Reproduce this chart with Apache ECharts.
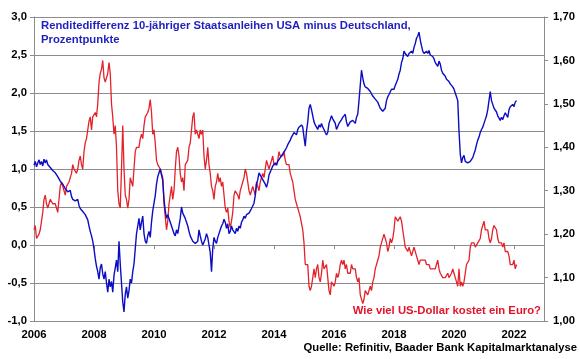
<!DOCTYPE html>
<html>
<head>
<meta charset="utf-8">
<script src="https://cdn.jsdelivr.net/npm/echarts@6/dist/echarts.min.js"></script>
<style>
html,body{margin:0;padding:0;background:#fff;}
#chart{width:580px;height:359px;}
</style>
</head>
<body>
<div id="chart"></div>
<script>
// Half-monthly readings starting January 2006 (two values per month)
var startYear = 2006;
var pointsPerYear = 24;
// Yield spread 10y US minus Germany, percentage points (left axis)
var spreadValues = [
  1.05,1.10, 1.03,1.08, 1.12,1.06, 1.10,1.04, 1.13,1.08, 1.12,1.06, 1.08,1.02, 1.04,0.98, 1.00,0.95, 0.94,0.90, 0.90,0.84, 0.86,0.80,
  0.80,0.74, 0.76,0.70, 0.68,0.72, 0.64,0.60, 0.62,0.58, 0.56,0.60, 0.52,0.48, 0.50,0.44, 0.45,0.40, 0.38,0.33, 0.25,0.18, 0.12,0.05,
  -0.05,-0.18, -0.28,-0.35, -0.45,-0.30, -0.25,-0.38, -0.45,-0.35, -0.50,-0.62, -0.45,-0.55, -0.48,-0.62, -0.40,-0.30, -0.20,-0.35, 0.05,-0.25, -0.50,-0.75,
  -0.88,-0.65, -0.55,-0.70, -0.60,-0.45, -0.50,-0.35, -0.25,-0.05, 0.15,0.25, 0.35,0.20, 0.30,0.38, 0.15,0.05, 0.02,0.12, 0.18,0.10, 0.30,0.45,
  0.55,0.65, 0.80,0.90, 0.95,1.00, 0.92,0.85, 0.60,0.45, 0.35,0.40, 0.38,0.30, 0.28,0.20, 0.15,0.12, 0.20,0.15, 0.25,0.35, 0.50,0.42,
  0.42,0.35, 0.30,0.25, 0.18,0.12, 0.10,0.05, 0.06,0.02, 0.00,0.05, 0.20,0.12, 0.05,0.00, -0.02,0.08, 0.15,0.10, 0.00,-0.10, -0.35,-0.05,
  0.10,0.05, 0.02,0.10, 0.15,0.20, 0.25,0.28, 0.34,0.30, 0.22,0.28, 0.15,0.18, 0.25,0.20, 0.18,0.15, 0.22,0.18, 0.25,0.22, 0.30,0.33,
  0.38,0.35, 0.40,0.38, 0.42,0.45, 0.48,0.50, 0.55,0.65, 0.80,0.86, 0.95,0.92, 0.90,0.86, 0.86,0.80, 0.76,0.82, 0.92,0.96, 1.00,1.04,
  1.02,1.08, 1.05,1.10, 1.12,1.15, 1.15,1.20, 1.22,1.25, 1.28,1.32, 1.35,1.38, 1.42,1.45, 1.48,1.50, 1.45,1.52, 1.55,1.57, 1.58,1.55,
  1.42,1.30, 1.50,1.62, 1.80,1.85, 1.78,1.70, 1.62,1.58, 1.55,1.52, 1.58,1.55, 1.60,1.55, 1.52,1.48, 1.45,1.48, 1.60,1.65, 1.70,1.66,
  1.66,1.60, 1.52,1.56, 1.60,1.58, 1.65,1.68, 1.70,1.72, 1.62,1.56, 1.58,1.62, 1.60,1.64, 1.62,1.60, 1.68,1.72, 1.90,2.10, 2.30,2.20,
  2.12,2.08, 2.10,2.06, 2.05,2.02, 2.00,1.96, 1.98,1.92, 1.90,1.88, 1.84,1.80, 1.78,1.76, 1.74,1.80, 1.90,1.95, 1.98,2.00, 2.05,2.03,
  2.05,2.10, 2.12,2.18, 2.25,2.30, 2.40,2.45, 2.55,2.52, 2.52,2.48, 2.52,2.50, 2.55,2.52, 2.60,2.65, 2.72,2.75, 2.80,2.70, 2.62,2.55,
  2.52,2.50, 2.55,2.52, 2.56,2.50, 2.52,2.48, 2.45,2.40, 2.38,2.35, 2.42,2.38, 2.30,2.26, 2.25,2.22, 2.18,2.20, 2.15,2.12, 2.12,2.08,
  2.05,2.00, 1.95,1.90, 1.50,1.20, 1.08,1.15, 1.18,1.10, 1.12,1.08, 1.06,1.10, 1.12,1.15, 1.20,1.25, 1.32,1.38, 1.42,1.48, 1.52,1.55,
  1.60,1.65, 1.70,1.78, 1.90,2.02, 1.90,1.85, 1.80,1.78, 1.75,1.70, 1.68,1.64, 1.68,1.65, 1.70,1.74, 1.72,1.68, 1.78,1.82, 1.80,1.85,
  1.82,1.88, 1.90
];
// EUR/USD exchange rate (right axis)
var eurusdValues = [
  1.21,1.22, 1.19,1.19, 1.20,1.21, 1.23,1.25, 1.28,1.29, 1.27,1.26, 1.27,1.28, 1.28,1.27, 1.27,1.27, 1.26,1.25, 1.28,1.31, 1.32,1.31,
  1.30,1.29, 1.31,1.31, 1.32,1.33, 1.34,1.36, 1.35,1.35, 1.34,1.35, 1.37,1.38, 1.36,1.35, 1.39,1.41, 1.42,1.44, 1.46,1.47, 1.44,1.47,
  1.47,1.48, 1.47,1.50, 1.55,1.57, 1.58,1.60, 1.56,1.55, 1.56,1.57, 1.595,1.57, 1.50,1.47, 1.43,1.45, 1.40,1.30, 1.27,1.26, 1.35,1.45,
  1.35,1.29, 1.28,1.26, 1.28,1.33, 1.32,1.31, 1.35,1.39, 1.40,1.40, 1.40,1.42, 1.43,1.42, 1.45,1.47, 1.47,1.48, 1.49,1.51, 1.48,1.43,
  1.44,1.41, 1.37,1.36, 1.36,1.35, 1.35,1.33, 1.27,1.24, 1.21,1.23, 1.27,1.29, 1.31,1.28, 1.30,1.35, 1.39,1.40, 1.38,1.34, 1.32,1.33,
  1.30,1.36, 1.36,1.37, 1.40,1.41, 1.44,1.47, 1.48,1.43, 1.44,1.43, 1.42,1.44, 1.43,1.44, 1.38,1.35, 1.37,1.40, 1.36,1.34, 1.31,1.30,
  1.28,1.31, 1.32,1.34, 1.32,1.33, 1.31,1.32, 1.29,1.26, 1.25,1.26, 1.23,1.215, 1.23,1.25, 1.29,1.30, 1.30,1.29, 1.28,1.30, 1.31,1.32,
  1.33,1.35, 1.34,1.32, 1.30,1.29, 1.30,1.31, 1.30,1.29, 1.32,1.31, 1.30,1.32, 1.33,1.34, 1.33,1.35, 1.37,1.36, 1.35,1.35, 1.37,1.38,
  1.36,1.36, 1.36,1.37, 1.39,1.38, 1.38,1.38, 1.39,1.37, 1.36,1.36, 1.36,1.34, 1.34,1.32, 1.30,1.28, 1.27,1.26, 1.25,1.24, 1.24,1.21,
  1.18,1.13, 1.13,1.13, 1.08,1.07, 1.08,1.10, 1.12,1.10, 1.12,1.13, 1.10,1.09, 1.11,1.14, 1.12,1.12, 1.13,1.10, 1.07,1.06, 1.09,1.09,
  1.08,1.09, 1.11,1.10, 1.11,1.13, 1.14,1.13, 1.14,1.12, 1.13,1.11, 1.11,1.11, 1.13,1.12, 1.12,1.12, 1.10,1.09, 1.10,1.06, 1.06,1.04,
  1.05,1.07, 1.07,1.06, 1.06,1.08, 1.07,1.09, 1.10,1.12, 1.12,1.14, 1.15,1.17, 1.18,1.18, 1.20,1.19, 1.18,1.16, 1.17,1.19, 1.18,1.19,
  1.21,1.24, 1.24,1.23, 1.23,1.24, 1.23,1.21, 1.19,1.17, 1.17,1.16, 1.17,1.17, 1.15,1.16, 1.17,1.17, 1.15,1.14, 1.13,1.14, 1.14,1.14,
  1.14,1.14, 1.13,1.13, 1.13,1.12, 1.12,1.12, 1.12,1.12, 1.13,1.14, 1.12,1.11, 1.11,1.10, 1.10,1.10, 1.10,1.11, 1.10,1.10, 1.11,1.12,
  1.11,1.10, 1.09,1.08, 1.12,1.08, 1.09,1.08, 1.09,1.11, 1.13,1.13, 1.14,1.17, 1.18,1.18, 1.18,1.17, 1.17,1.18, 1.18,1.19, 1.21,1.22,
  1.23,1.21, 1.21,1.21, 1.19,1.18, 1.19,1.21, 1.22,1.22, 1.21,1.19, 1.18,1.18, 1.18,1.17, 1.18,1.16, 1.16,1.16, 1.15,1.13, 1.13,1.13,
  1.14,1.12, 1.13
];
var titleLines = ['Renditedifferenz 10-jähriger Staatsanleihen USA minus Deutschland,', 'Prozentpunkte'];
var fxLabel = 'Wie viel US-Dollar kostet ein Euro?';
var sourceLabel = 'Quelle: Refinitiv, Baader Bank Kapitalmarktanalyse';

function toPairs(vals) {
  return vals.map(function (v, i) { return [startYear + i / pointsPerYear, v]; });
}

var FONT = '"Liberation Sans", Arial, sans-serif';
var chart = echarts.init(document.getElementById('chart'), null, {renderer: 'canvas'});
var gridCol = '#8c8c8c';
var labelStyle = {color: '#000', fontWeight: 'bold', fontSize: 11.3, fontFamily: FONT};

chart.setOption({
  animation: false,
  backgroundColor: '#fff',
  grid: {left: 34, right: 36, top: 17, bottom: 38, containLabel: false},
  xAxis: {
    type: 'value', min: 2006, max: 2023, interval: 2,
    axisLine: {show: true, lineStyle: {color: gridCol, width: 1}},
    axisTick: {show: true, inside: false, length: 4, lineStyle: {color: gridCol}},
    axisLabel: Object.assign({margin: 8, formatter: function (v) { return v % 2 === 0 ? String(v) : ''; }}, labelStyle),
    splitLine: {show: false}
  },
  yAxis: [{
    type: 'value', min: -1, max: 3, interval: 0.5, position: 'left',
    axisLine: {show: true, lineStyle: {color: gridCol, width: 1}},
    axisTick: {show: true, inside: false, length: 4, lineStyle: {color: gridCol}},
    axisLabel: Object.assign({margin: 7, formatter: function (v) { return v.toFixed(1).replace('.', ','); }}, labelStyle),
    splitLine: {show: true, lineStyle: {color: gridCol, width: 1}}
  }, {
    type: 'value', min: 1.0, max: 1.7, interval: 0.1, position: 'right',
    axisLine: {show: true, lineStyle: {color: gridCol, width: 1}},
    axisTick: {show: true, inside: false, length: 4, lineStyle: {color: gridCol}},
    axisLabel: Object.assign({margin: 9, formatter: function (v) { return v.toFixed(2).replace('.', ','); }}, labelStyle),
    splitLine: {show: false}
  }],
  series: [{
    name: 'EUR/USD', type: 'line', yAxisIndex: 1, showSymbol: false,
    data: toPairs(eurusdValues),
    lineStyle: {color: '#e3222a', width: 1.3}, itemStyle: {color: '#e3222a'}, z: 2
  }, {
    name: 'Spread', type: 'line', yAxisIndex: 0, showSymbol: false,
    data: toPairs(spreadValues),
    lineStyle: {color: '#0c0cc2', width: 1.4}, itemStyle: {color: '#0c0cc2'}, z: 3
  }],
  graphic: [
    {type: 'text', left: 41, top: 20, z: 10, style: {text: titleLines[0], fill: '#1f1fbf', font: 'bold 11.3px ' + FONT}},
    {type: 'text', left: 41, top: 34, z: 10, style: {text: titleLines[1], fill: '#1f1fbf', font: 'bold 11.3px ' + FONT}},
    {type: 'text', right: 39, top: 305, z: 10, style: {text: fxLabel, fill: '#e2132a', font: 'bold 11.3px ' + FONT}},
    {type: 'text', right: 3, top: 342, z: 10, style: {text: sourceLabel, fill: '#000', font: 'bold 11.3px ' + FONT}}
  ]
});
</script>
</body>
</html>
